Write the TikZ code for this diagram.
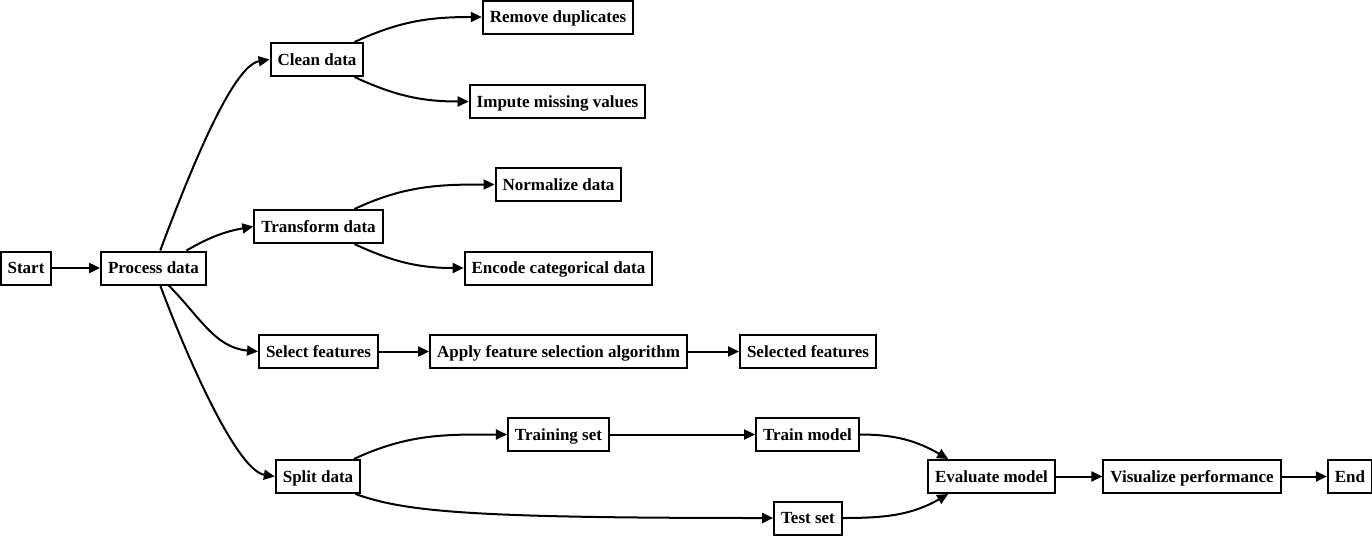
\documentclass[tikz,border=0pt]{standalone}
\usepackage{fontspec}
\setmainfont{Liberation Serif}
\usetikzlibrary{arrows.meta,positioning}
\begin{document}
\begin{tikzpicture}[x=1pt, y=1pt,
        box/.style={rectangle, draw=black, line width=2pt, fill=white, minimum height=33pt, inner xsep=7pt, inner ysep=0pt, text height=12pt, text depth=0.7pt, font=\fontsize{17}{20}\selectfont\bfseries},
        flow/.style={-{Triangle[length=11pt,width=10pt]}, line width=2pt}
    ]
        \useasboundingbox (0,0) rectangle (1372,-536);

        \node[box] (start) at (26,-268) {Start};
        \node[box] (proc) at (153.5,-268) {Process data};
        \node[box] (clean) at (317,-59.5) {Clean data};
        \node[box] (dup) at (558,-17) {Remove duplicates};
        \node[box] (impute) at (557.5,-101.5) {Impute missing values};
        \node[box] (transform) at (318.5,-226.5) {Transform data};
        \node[box] (norm) at (558.5,-184.5) {Normalize data};
        \node[box] (encode) at (558.5,-268) {Encode categorical data};
        \node[box] (select) at (318.5,-351.5) {Select features};
        \node[box] (apply) at (558.5,-351.5) {Apply feature selection algorithm};
        \node[box] (selected) at (808,-351.5) {Selected features};
        \node[box] (split) at (318,-476.5) {Split data};
        \node[box] (train) at (558.5,-434.5) {Training set};
        \node[box] (model) at (807.5,-434.5) {Train model};
        \node[box] (test) at (808,-518) {Test set};
        \node[box] (evaluate) at (991.5,-476.5) {Evaluate model};
        \node[box] (visual) at (1192,-476.5) {Visualize performance};
        \node[box] (stop) at (1350,-476.5) {End};

        \draw[flow] (start) -- (proc);
        \draw[flow] (proc.69) .. controls +(30,80) and +(-37,-6) .. (clean.west);
        \draw[flow] (proc.28) to[out=30,in=190] (transform.west);
        \draw[flow] (proc.-49) to[out=-45,in=175] (select.west);
        \draw[flow] (proc.-69) .. controls +(30,-80) and +(-37,6) .. (split.west);
        \draw[flow] (clean.25) to[out=25,in=180] (dup.west);
        \draw[flow] (clean.-25) to[out=-25,in=180] (impute.west);
        \draw[flow] (transform.26) to[out=25,in=180] (norm.west);
        \draw[flow] (transform.-26) to[out=-25,in=180] (encode.west);
        \draw[flow] (select) -- (apply);
        \draw[flow] (apply) -- (selected);
        \draw[flow] (split.26) to[out=25,in=180] (train.west);
        \draw[flow] (split.-25) .. controls +(50,-18) and +(-300,0) .. (test.west);
        \draw[flow] (train) -- (model);
        \draw[flow] (model.east) to[out=0,in=150] (evaluate.158);
        \draw[flow] (test.east) to[out=0,in=210] (evaluate.202);
        \draw[flow] (evaluate) -- (visual);
        \draw[flow] (visual) -- (stop);
    \end{tikzpicture}
\end{document}
